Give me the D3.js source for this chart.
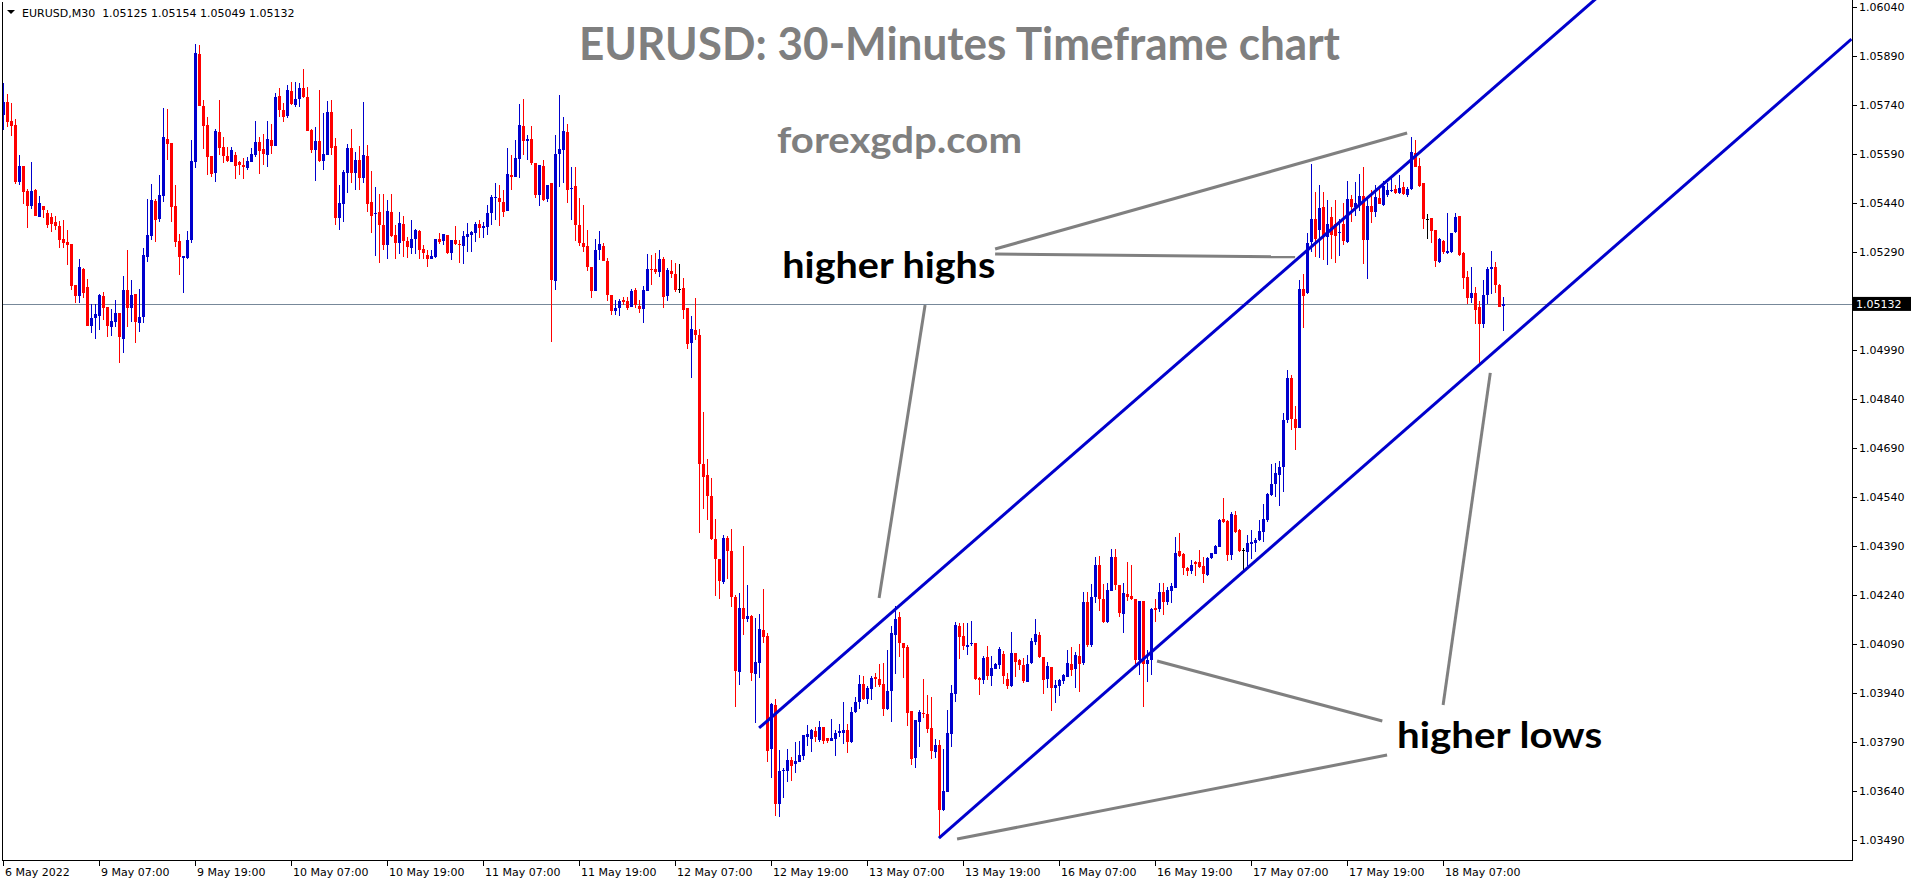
<!DOCTYPE html>
<html><head><meta charset="utf-8">
<script src="https://cdn.jsdelivr.net/npm/d3@7"></script>
<style>html,body{margin:0;padding:0;background:#fff;overflow:hidden}</style>
</head><body>
<svg id="c" width="1916" height="884"></svg>
<script>
// ---- DATA (EURUSD M30, bars in time order) ----
const opens = [
1.05710,1.05751,1.05691,1.05679,1.05506,1.05554,1.05477,1.05432,1.05480,1.05399,
1.05431,1.05410,1.05399,1.05382,1.05371,1.05330,1.05321,1.05315,1.05189,1.05157,
1.05238,1.05183,1.05064,1.05088,1.05096,1.05156,1.05122,1.05062,1.05077,1.05104,
1.05025,1.05174,1.05120,1.05163,1.05074,1.05092,1.05276,1.05340,1.05448,1.05392,
1.05463,1.05638,1.05624,1.05431,1.05324,1.05273,1.05273,1.05327,1.05567,1.05897,
1.05737,1.05679,1.05584,1.05533,1.05658,1.05612,1.05585,1.05567,1.05587,1.05566,
1.05558,1.05549,1.05567,1.05588,1.05627,1.05606,1.05589,1.05633,1.05615,1.05769,
1.05725,1.05707,1.05783,1.05740,1.05758,1.05793,1.05766,1.05664,1.05603,1.05630,
1.05569,1.05589,1.05720,1.05615,1.05396,1.05437,1.05533,1.05610,1.05533,1.05573,
1.05518,1.05584,1.05443,1.05406,1.05412,1.05374,1.05311,1.05413,1.05343,1.05320,
1.05378,1.05324,1.05304,1.05332,1.05355,1.05300,1.05281,1.05271,1.05276,1.05332,
1.05325,1.05342,1.05288,1.05327,1.05315,1.05310,1.05337,1.05344,1.05348,1.05376,
1.05365,1.05368,1.05409,1.05457,1.05455,1.05444,1.05417,1.05528,1.05521,1.05577,
1.05676,1.05630,1.05638,1.05562,1.05465,1.05554,1.05452,1.05501,1.05202,1.05590,
1.05603,1.05659,1.05484,1.05492,1.05373,1.05319,1.05310,1.05246,1.05172,1.05297,
1.05310,1.05263,1.05159,1.05111,1.05118,1.05143,1.05140,1.05123,1.05174,1.05127,
1.05115,1.05172,1.05240,1.05240,1.05230,1.05268,1.05156,1.05232,1.05225,1.05179,
1.05182,1.05118,1.05013,1.05052,1.05037,1.04641,1.04609,1.04544,1.04412,1.04352,
1.04281,1.04414,1.04376,1.04235,1.04006,1.04202,1.04166,1.04176,1.03999,1.04034,
1.04133,1.04116,1.03769,1.03904,1.03601,1.03703,1.03703,1.03737,1.03725,1.03730,
1.03748,1.03807,1.03799,1.03825,1.03797,1.03837,1.03804,1.03794,1.03801,1.03817,
1.03820,1.03829,1.03791,1.03883,1.03912,1.03968,1.03924,1.03953,1.03990,1.03985,
1.03967,1.03893,1.03947,1.04118,1.04174,1.04094,1.04082,1.03885,1.03742,1.03853,
1.03881,1.03878,1.03834,1.03761,1.03781,1.03582,1.03638,1.03815,1.03939,1.04147,
1.04115,1.04082,1.04091,1.04095,1.03988,1.03982,1.04050,1.03993,1.04014,1.04028,
1.04060,1.03983,1.03962,1.04062,1.04041,1.04026,1.03975,1.04033,1.04098,1.04118,
1.04052,1.03983,1.04019,1.03957,1.03962,1.03978,1.03990,1.04031,1.04014,1.04054,
1.04033,1.04220,1.04087,1.04235,1.04332,1.04230,1.04159,1.04254,1.04358,1.04271,
1.04184,1.04243,1.04237,1.04230,1.04041,1.04222,1.04031,1.04043,1.04200,1.04197,
1.04249,1.04220,1.04253,1.04263,1.04375,1.04365,1.04324,1.04315,1.04342,1.04342,
1.04330,1.04302,1.04353,1.04366,1.04388,1.04473,1.04467,1.04363,1.04487,1.04439,
1.04378,1.04373,1.04397,1.04401,1.04409,1.04434,1.04470,1.04547,1.04580,1.04608,
1.04633,1.04776,1.04904,1.04781,1.04753,1.05177,1.05164,1.05322,1.05393,1.05358,
1.05429,1.05337,1.05399,1.05378,1.05348,1.05378,1.05322,1.05452,1.05429,1.05439,
1.05462,1.05327,1.05431,1.05414,1.05455,1.05436,1.05465,1.05478,1.05485,1.05472,
1.05490,1.05465,1.05483,1.05594,1.05554,1.05501,1.05393,1.05395,1.05358,1.05261,
1.05325,1.05289,1.05291,1.05351,1.05401,1.05288,1.05215,1.05151,1.05166,1.05123,
1.05072,1.05159,1.05238,1.05246,1.05191,1.05125];
const highs = [
1.05807,1.05774,1.05748,1.05698,1.05587,1.05554,1.05485,1.05566,1.05483,1.05462,
1.05431,1.05419,1.05409,1.05401,1.05386,1.05388,1.05358,1.05315,1.05189,1.05269,
1.05243,1.05208,1.05133,1.05131,1.05161,1.05168,1.05122,1.05115,1.05144,1.05104,
1.05217,1.05297,1.05205,1.05163,1.05179,1.05302,1.05453,1.05499,1.05452,1.05526,
1.05731,1.05728,1.05624,1.05496,1.05346,1.05279,1.05355,1.05633,1.05927,1.05924,
1.05756,1.05703,1.05584,1.05667,1.05756,1.05642,1.05611,1.05611,1.05598,1.05569,
1.05578,1.05582,1.05608,1.05691,1.05643,1.05652,1.05691,1.05682,1.05778,1.05792,
1.05748,1.05802,1.05812,1.05812,1.05809,1.05851,1.05797,1.05668,1.05674,1.05786,
1.05715,1.05754,1.05756,1.05640,1.05496,1.05543,1.05623,1.05667,1.05598,1.05615,
1.05751,1.05618,1.05538,1.05490,1.05470,1.05470,1.05450,1.05470,1.05375,1.05414,
1.05401,1.05337,1.05388,1.05360,1.05358,1.05312,1.05297,1.05297,1.05332,1.05348,
1.05346,1.05342,1.05327,1.05371,1.05327,1.05355,1.05381,1.05355,1.05383,1.05390,
1.05383,1.05434,1.05465,1.05501,1.05496,1.05480,1.05608,1.05587,1.05633,1.05743,
1.05759,1.05649,1.05676,1.05562,1.05557,1.05572,1.05496,1.05501,1.05649,1.05771,
1.05705,1.05684,1.05550,1.05550,1.05457,1.05434,1.05358,1.05246,1.05330,1.05355,
1.05317,1.05273,1.05159,1.05143,1.05147,1.05154,1.05154,1.05177,1.05182,1.05143,
1.05187,1.05284,1.05281,1.05289,1.05297,1.05276,1.05242,1.05266,1.05258,1.05254,
1.05210,1.05118,1.05094,1.05149,1.05055,1.04802,1.04657,1.04600,1.04475,1.04352,
1.04424,1.04421,1.04444,1.04240,1.04248,1.04391,1.04273,1.04179,1.04171,1.04184,
1.04258,1.04125,1.03909,1.03922,1.03766,1.03710,1.03768,1.03746,1.03791,1.03794,
1.03812,1.03842,1.03832,1.03837,1.03855,1.03837,1.03804,1.03860,1.03827,1.03846,
1.03914,1.03846,1.03899,1.03929,1.03996,1.03992,1.03963,1.03992,1.04003,1.04031,
1.04033,1.04072,1.04146,1.04207,1.04189,1.04094,1.04087,1.03885,1.03858,1.03888,
1.03983,1.03936,1.03929,1.03800,1.03797,1.03769,1.03888,1.03965,1.04159,1.04154,
1.04154,1.04156,1.04161,1.04095,1.03990,1.04054,1.04085,1.04054,1.04033,1.04082,
1.04070,1.04001,1.04128,1.04064,1.04044,1.04047,1.04057,1.04108,1.04167,1.04128,
1.04052,1.04036,1.04019,1.03980,1.03985,1.03998,1.04072,1.04082,1.04067,1.04092,
1.04251,1.04251,1.04276,1.04358,1.04360,1.04276,1.04279,1.04381,1.04381,1.04271,
1.04279,1.04342,1.04332,1.04230,1.04222,1.04222,1.04072,1.04200,1.04228,1.04279,
1.04279,1.04266,1.04279,1.04419,1.04431,1.04370,1.04327,1.04348,1.04344,1.04378,
1.04358,1.04358,1.04370,1.04395,1.04473,1.04539,1.04470,1.04495,1.04498,1.04444,
1.04386,1.04426,1.04441,1.04414,1.04470,1.04521,1.04552,1.04643,1.04646,1.04652,
1.04797,1.04929,1.04914,1.04819,1.05205,1.05225,1.05348,1.05560,1.05475,1.05496,
1.05475,1.05450,1.05429,1.05450,1.05391,1.05441,1.05509,1.05465,1.05504,1.05531,
1.05550,1.05460,1.05480,1.05496,1.05483,1.05509,1.05501,1.05521,1.05496,1.05526,
1.05506,1.05490,1.05643,1.05633,1.05580,1.05501,1.05407,1.05395,1.05358,1.05334,
1.05327,1.05409,1.05350,1.05409,1.05401,1.05291,1.05232,1.05246,1.05184,1.05140,
1.05205,1.05246,1.05293,1.05261,1.05194,1.05154];
const lows = [
1.05664,1.05674,1.05646,1.05499,1.05496,1.05439,1.05365,1.05424,1.05402,1.05399,
1.05396,1.05365,1.05353,1.05358,1.05304,1.05304,1.05251,1.05174,1.05135,1.05135,
1.05149,1.05064,1.05043,1.05025,1.05052,1.05082,1.05031,1.05033,1.05062,1.04952,
1.04982,1.05062,1.05077,1.05013,1.05047,1.05074,1.05259,1.05327,1.05322,1.05383,
1.05444,1.05572,1.05383,1.05307,1.05220,1.05166,1.05269,1.05319,1.05549,1.05737,
1.05606,1.05526,1.05521,1.05506,1.05589,1.05562,1.05565,1.05565,1.05515,1.05526,
1.05515,1.05541,1.05567,1.05582,1.05529,1.05557,1.05552,1.05592,1.05615,1.05705,
1.05689,1.05700,1.05740,1.05735,1.05735,1.05761,1.05662,1.05594,1.05509,1.05565,
1.05541,1.05587,1.05589,1.05373,1.05358,1.05383,1.05472,1.05501,1.05482,1.05482,
1.05501,1.05414,1.05350,1.05278,1.05256,1.05297,1.05268,1.05337,1.05268,1.05286,
1.05276,1.05273,1.05286,1.05286,1.05271,1.05269,1.05246,1.05268,1.05274,1.05315,
1.05312,1.05286,1.05266,1.05312,1.05258,1.05254,1.05291,1.05291,1.05322,1.05335,
1.05334,1.05342,1.05373,1.05388,1.05371,1.05399,1.05417,1.05480,1.05519,1.05518,
1.05587,1.05572,1.05557,1.05455,1.05431,1.05447,1.05444,1.05016,1.05174,1.05490,
1.05501,1.05441,1.05388,1.05324,1.05309,1.05291,1.05232,1.05151,1.05171,1.05266,
1.05263,1.05140,1.05098,1.05098,1.05096,1.05128,1.05113,1.05123,1.05118,1.05103,
1.05074,1.05172,1.05189,1.05225,1.05215,1.05120,1.05141,1.05210,1.05169,1.05166,
1.05085,1.04993,1.04906,1.05023,1.04431,1.04504,1.04470,1.04409,1.04237,1.04230,
1.04276,1.04291,1.04205,1.03899,1.03965,1.04120,1.04159,1.03977,1.03848,1.03987,
1.04094,1.03730,1.03682,1.03564,1.03562,1.03621,1.03669,1.03672,1.03697,1.03730,
1.03737,1.03778,1.03760,1.03791,1.03791,1.03784,1.03788,1.03794,1.03748,1.03807,
1.03786,1.03756,1.03788,1.03880,1.03893,1.03921,1.03906,1.03921,1.03960,1.03960,
1.03870,1.03890,1.03853,1.03999,1.04050,1.03987,1.03840,1.03720,1.03710,1.03776,
1.03863,1.03817,1.03740,1.03743,1.03496,1.03580,1.03638,1.03776,1.03912,1.04044,
1.04072,1.04057,1.04085,1.03980,1.03934,1.03970,1.03980,1.03962,1.04013,1.04013,
1.03970,1.03952,1.03960,1.03990,1.04011,1.03972,1.03975,1.04031,1.04087,1.04047,
1.03939,1.03955,1.03886,1.03909,1.03932,1.03968,1.03990,1.03992,1.03957,1.03944,
1.04026,1.04082,1.04082,1.04215,1.04192,1.04154,1.04156,1.04253,1.04256,1.04174,
1.04125,1.04223,1.04225,1.04031,1.03995,1.03899,1.03975,1.03996,1.04157,1.04189,
1.04179,1.04210,1.04215,1.04263,1.04358,1.04302,1.04299,1.04304,1.04300,1.04325,
1.04278,1.04300,1.04350,1.04366,1.04388,1.04462,1.04346,1.04348,1.04432,1.04373,
1.04317,1.04330,1.04350,1.04373,1.04407,1.04404,1.04465,1.04543,1.04541,1.04514,
1.04557,1.04766,1.04746,1.04684,1.04753,1.05057,1.05161,1.05291,1.05276,1.05274,
1.05266,1.05251,1.05271,1.05258,1.05279,1.05312,1.05320,1.05383,1.05401,1.05417,
1.05254,1.05208,1.05381,1.05397,1.05437,1.05433,1.05460,1.05475,1.05470,1.05468,
1.05464,1.05458,1.05480,1.05550,1.05490,1.05360,1.05332,1.05317,1.05246,1.05258,
1.05286,1.05286,1.05288,1.05350,1.05279,1.05179,1.05133,1.05136,1.05072,1.04944,
1.05059,1.05133,1.05161,1.05164,1.05123,1.05049];
const closes = [
1.05751,1.05689,1.05677,1.05506,1.05554,1.05475,1.05432,1.05477,1.05402,1.05440,
1.05419,1.05374,1.05378,1.05370,1.05327,1.05319,1.05313,1.05187,1.05156,1.05244,
1.05164,1.05064,1.05088,1.05101,1.05159,1.05121,1.05064,1.05079,1.05104,1.05031,
1.05174,1.05120,1.05159,1.05076,1.05091,1.05281,1.05342,1.05450,1.05388,1.05465,
1.05643,1.05623,1.05429,1.05322,1.05276,1.05279,1.05329,1.05569,1.05901,1.05737,
1.05677,1.05582,1.05529,1.05661,1.05610,1.05585,1.05569,1.05603,1.05555,1.05557,
1.05552,1.05569,1.05590,1.05627,1.05601,1.05590,1.05636,1.05616,1.05766,1.05727,
1.05705,1.05786,1.05743,1.05759,1.05793,1.05766,1.05662,1.05603,1.05630,1.05569,
1.05590,1.05720,1.05610,1.05396,1.05440,1.05536,1.05608,1.05533,1.05572,1.05518,
1.05587,1.05439,1.05402,1.05410,1.05373,1.05311,1.05416,1.05339,1.05320,1.05379,
1.05324,1.05307,1.05332,1.05358,1.05297,1.05288,1.05268,1.05278,1.05332,1.05322,
1.05346,1.05288,1.05327,1.05314,1.05311,1.05339,1.05346,1.05351,1.05378,1.05365,
1.05371,1.05409,1.05460,1.05460,1.05444,1.05414,1.05529,1.05521,1.05580,1.05679,
1.05630,1.05636,1.05562,1.05465,1.05557,1.05450,1.05496,1.05205,1.05592,1.05606,
1.05662,1.05480,1.05488,1.05373,1.05317,1.05307,1.05246,1.05171,1.05297,1.05315,
1.05263,1.05159,1.05111,1.05121,1.05141,1.05138,1.05120,1.05172,1.05128,1.05116,
1.05174,1.05240,1.05235,1.05230,1.05271,1.05154,1.05235,1.05223,1.05174,1.05179,
1.05113,1.05009,1.05054,1.05036,1.04641,1.04603,1.04544,1.04411,1.04350,1.04283,
1.04414,1.04376,1.04235,1.04009,1.04202,1.04166,1.04176,1.04003,1.04036,1.04137,
1.04113,1.03763,1.03906,1.03601,1.03703,1.03705,1.03737,1.03718,1.03733,1.03751,
1.03811,1.03814,1.03827,1.03807,1.03837,1.03794,1.03794,1.03804,1.03820,1.03825,
1.03827,1.03791,1.03883,1.03914,1.03968,1.03924,1.03955,1.03987,1.03984,1.03965,
1.03893,1.03948,1.04125,1.04166,1.04094,1.04079,1.03881,1.03738,1.03858,1.03883,
1.03876,1.03832,1.03763,1.03781,1.03582,1.03640,1.03820,1.03942,1.04149,1.04113,
1.04085,1.04089,1.04094,1.03983,1.03982,1.04047,1.03993,1.04016,1.04031,1.04077,
1.03993,1.03962,1.04062,1.04036,1.04026,1.03977,1.04031,1.04100,1.04123,1.04050,
1.03980,1.04023,1.03955,1.03965,1.03980,1.03995,1.04034,1.04011,1.04057,1.04031,
1.04220,1.04087,1.04235,1.04332,1.04228,1.04159,1.04256,1.04358,1.04271,1.04186,
1.04246,1.04235,1.04228,1.04041,1.04222,1.04031,1.04043,1.04198,1.04194,1.04249,
1.04220,1.04256,1.04268,1.04371,1.04360,1.04324,1.04315,1.04332,1.04337,1.04327,
1.04305,1.04355,1.04368,1.04390,1.04470,1.04465,1.04363,1.04488,1.04434,1.04375,
1.04378,1.04399,1.04402,1.04409,1.04436,1.04473,1.04550,1.04580,1.04615,1.04633,
1.04776,1.04904,1.04781,1.04753,1.05177,1.05157,1.05320,1.05393,1.05332,1.05427,
1.05337,1.05378,1.05342,1.05339,1.05353,1.05325,1.05452,1.05429,1.05441,1.05462,
1.05327,1.05431,1.05414,1.05458,1.05439,1.05494,1.05480,1.05482,1.05472,1.05488,
1.05470,1.05485,1.05598,1.05552,1.05492,1.05393,1.05393,1.05356,1.05264,1.05332,
1.05291,1.05294,1.05348,1.05399,1.05281,1.05210,1.05149,1.05166,1.05113,1.05072,
1.05159,1.05238,1.05246,1.05189,1.05123,1.05132];

const priceTicks = [1.06040,1.05890,1.05740,1.05590,1.05440,1.05290,1.04990,1.04840,
  1.04690,1.04540,1.04390,1.04240,1.04090,1.03940,1.03790,1.03640,1.03490];
const timeLabels = ["6 May 2022","9 May 07:00","9 May 19:00","10 May 07:00","10 May 19:00",
  "11 May 07:00","11 May 19:00","12 May 07:00","12 May 19:00","13 May 07:00","13 May 19:00",
  "16 May 07:00","16 May 19:00","17 May 07:00","17 May 19:00","18 May 07:00"];
const timeLabelBars = [0,24,48,72,96,120,144,168,192,216,240,264,288,312,336,360];

const headerText = "EURUSD,M30  1.05125 1.05154 1.05049 1.05132";
const titleText = "EURUSD: 30-Minutes Timeframe chart";
const siteText = "forexgdp.com";

// trend channel (bar index, price)
const channelUpper = [[188.9, 1.03834], [321.7, 1.05251]];
const channelLower = [[233.85, 1.03497], [338.7, 1.04621]];
// pointer lines (bar index, price)
const pointerLines = [
  [[247.9, 1.05300], [350.9, 1.05655]],
  [[247.9, 1.05285], [322.9, 1.05276]],
  [[230.4, 1.05129], [218.9, 1.04232]],
  [[288.4, 1.04039], [344.7, 1.03855]],
  [[238.4, 1.03494], [345.9, 1.03751]],
  [[371.7, 1.04921], [359.9, 1.03904]]
];
const noteLabels = ["higher highs", "higher lows"];
const noteBars = [194.7, 348.4];
const notePrices = [1.05211, 1.03773];

// ---- DRAW ----
const BLUE = "#0000cd", RED = "#ff0000";
const svg = d3.select("#c");
const PL = 2.5, PR = 1852.5, PB = 860.5;
const lastBar = 462;
const x = d3.scaleLinear().domain([0, lastBar]).range([3.5, 1851.5]);
const y = d3.scaleLinear().domain([1.0349, 1.0604]).range([840.3, 7.3]);

svg.append("rect").attr("width",1916).attr("height",884).attr("fill","#fff");
const defs = svg.append("defs");
defs.append("clipPath").attr("id","plotclip").append("rect")
  .attr("x",PL+0.5).attr("y",0).attr("width",PR-PL-1).attr("height",PB);

const plot = svg.append("g").attr("clip-path","url(#plotclip)");

// current price line
const lastClose = closes[closes.length-1];
plot.append("line").attr("x1",PL).attr("x2",PR)
  .attr("y1",Math.round(y(lastClose))+0.5).attr("y2",Math.round(y(lastClose))+0.5)
  .attr("stroke","#778899").attr("stroke-width",1);

// candles
const idx = d3.range(opens.length);
const col = i => closes[i] > opens[i] ? BLUE : (closes[i] < opens[i] ? RED : "#000");
const cg = plot.append("g").attr("shape-rendering","crispEdges");
cg.selectAll("line").data(idx).join("line")
  .attr("x1", i => Math.floor(x(i)) + 0.5).attr("x2", i => Math.floor(x(i)) + 0.5)
  .attr("y1", i => y(highs[i])).attr("y2", i => y(lows[i]))
  .attr("stroke", col).attr("stroke-width", 1);
cg.selectAll("rect").data(idx).join("rect")
  .attr("x", i => Math.floor(x(i)) - 1).attr("width", 3)
  .attr("y", i => Math.min(y(opens[i]), y(closes[i])))
  .attr("height", i => Math.max(1, Math.abs(y(opens[i]) - y(closes[i]))))
  .attr("fill", col);

// channel rays
function ray(pts) {
  const [[b1,p1],[b2,p2]] = pts;
  const s = (p2 - p1) / (b2 - b1);
  return [[b1,p1],[lastBar, p1 + s*(lastBar - b1)]];
}
plot.selectAll("line.ch").data([ray(channelUpper), ray(channelLower)]).join("line")
  .attr("class","ch")
  .attr("x1", d => x(d[0][0])).attr("y1", d => y(d[0][1]))
  .attr("x2", d => x(d[1][0])).attr("y2", d => y(d[1][1]))
  .attr("stroke", BLUE).attr("stroke-width", 3);

// pointer lines
plot.selectAll("line.pt").data(pointerLines).join("line")
  .attr("class","pt")
  .attr("x1", d => x(d[0][0])).attr("y1", d => y(d[0][1]))
  .attr("x2", d => x(d[1][0])).attr("y2", d => y(d[1][1]))
  .attr("stroke", "#808080").attr("stroke-width", 3);

// notes
const noteW = [213, 205];
svg.selectAll("text.note").data(noteLabels).join("text")
  .attr("class","note")
  .attr("x", (d,i) => x(noteBars[i])).attr("y", (d,i) => y(notePrices[i]))
  .attr("font-family","Lato, 'Open Sans', sans-serif").attr("font-weight","bold")
  .attr("font-size", 37).attr("fill","#000")
  .attr("textLength", (d,i) => noteW[i]).attr("lengthAdjust","spacingAndGlyphs")
  .text(d => d);

// title and site
svg.append("text").attr("x",579).attr("y",60)
  .attr("font-family","Lato, 'Open Sans', sans-serif").attr("font-weight","bold")
  .attr("font-size",45).attr("fill","#7f7f7f")
  .attr("textLength",761).attr("lengthAdjust","spacingAndGlyphs").text(titleText);
svg.append("text").attr("x",777).attr("y",153)
  .attr("font-family","Lato, 'Open Sans', sans-serif").attr("font-weight","bold")
  .attr("font-size",36).attr("fill","#7f7f7f")
  .attr("textLength",245).attr("lengthAdjust","spacingAndGlyphs").text(siteText);

// frame
const fg = svg.append("g").attr("shape-rendering","crispEdges").attr("stroke","#000");
fg.append("line").attr("x1",PL).attr("x2",PL).attr("y1",2).attr("y2",PB);
fg.append("line").attr("x1",PR).attr("x2",PR).attr("y1",0).attr("y2",PB);
fg.append("line").attr("x1",PL).attr("x2",PR).attr("y1",PB).attr("y2",PB);

// price axis
const ax = svg.append("g").attr("font-family","'DejaVu Sans', sans-serif").attr("font-size",11);
ax.selectAll("line").data(priceTicks).join("line")
  .attr("x1",PR).attr("x2",PR+4)
  .attr("y1", d => Math.round(y(d))+0.5).attr("y2", d => Math.round(y(d))+0.5)
  .attr("stroke","#000").attr("shape-rendering","crispEdges");
ax.selectAll("text").data(priceTicks).join("text")
  .attr("x",1859).attr("y", d => y(d)).attr("dy","0.36em")
  .attr("fill","#000").text(d => d.toFixed(5));

// current price box
const yc = y(lastClose);
svg.append("rect").attr("x",1853).attr("y",yc-7).attr("width",58).attr("height",14).attr("fill","#000");
svg.append("text").attr("x",1856).attr("y",yc).attr("dy","0.36em")
  .attr("font-family","'DejaVu Sans', sans-serif").attr("font-size",11)
  .attr("fill","#fff").text(lastClose.toFixed(5));

// time axis
const tx = svg.append("g").attr("font-family","'DejaVu Sans', sans-serif").attr("font-size",11);
tx.selectAll("line").data(timeLabelBars).join("line")
  .attr("x1", d => Math.floor(x(d))+0.5).attr("x2", d => Math.floor(x(d))+0.5)
  .attr("y1",PB).attr("y2",PB+5).attr("stroke","#000").attr("shape-rendering","crispEdges");
tx.selectAll("text").data(timeLabels).join("text")
  .attr("x",(d,i) => Math.floor(x(timeLabelBars[i]))+2).attr("y",876)
  .attr("fill","#000").text(d => d);

// header
svg.append("path").attr("d","M7,10 L15,10 L11,14 Z").attr("fill","#000");
svg.append("text").attr("x",22).attr("y",17)
  .attr("font-family","'DejaVu Sans', sans-serif").attr("font-size",11)
  .attr("fill","#000").attr("xml:space","preserve").style("white-space","pre")
  .text(headerText);
</script>
</body></html>
